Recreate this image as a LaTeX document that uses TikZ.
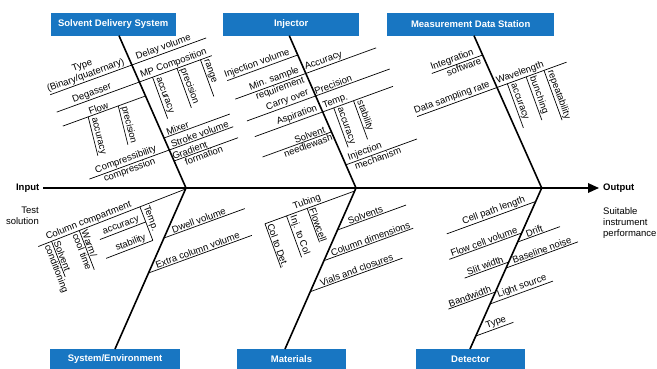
\documentclass[tikz,border=0pt]{standalone}
\usepackage{fontspec}
\setmainfont{Liberation Sans}
\usetikzlibrary{calc,arrows.meta}
\definecolor{hdblue}{RGB}{24,118,194}
\begin{document}
\begin{tikzpicture}[x=1pt,y=-1pt]
\tikzset{
 br/.style={line width=0.7pt},
 bone/.style={line width=1.6pt},
 lab/.style={font=\fontsize{9.5}{10.5}\selectfont, inner sep=0.9pt, sloped},
 subA/.style={lab, anchor=south west, pos=0.02},
 subB/.style={lab, anchor=north west, pos=0.02},
 hd/.style={fill=hdblue, text=white, font=\fontsize{9.5}{11}\selectfont\bfseries, inner sep=0pt},
 plain/.style={font=\fontsize{9.5}{11.3}\selectfont, inner sep=0pt},
 plainb/.style={font=\fontsize{9.5}{11.3}\selectfont\bfseries, inner sep=0pt},
}
\useasboundingbox (0,0) rectangle (657,369);

% category boxes
\node[hd, minimum width=125pt, minimum height=23pt] (sds) at (113.2,24.2) {Solvent Delivery System};
\node[hd, minimum width=135.7pt, minimum height=23pt] (inj) at (291.2,24.2) {Injector};
\node[hd, minimum width=166.7pt, minimum height=23pt] (mds) at (470.7,24.2) {Measurement Data Station};
\node[hd, minimum width=130pt, minimum height=20pt] (sen) at (115,359) {System/Environment};
\node[hd, minimum width=108.4pt, minimum height=20pt] (mat) at (291.5,359) {Materials};
\node[hd, minimum width=109pt, minimum height=20pt] (det) at (470.5,359) {Detector};

% spine end points
\coordinate (s1t) at (119,35.7);  \coordinate (j1) at (186,188);
\coordinate (s2t) at (289.3,35.7); \coordinate (j2) at (356,188);
\coordinate (s3t) at (474,35.7);  \coordinate (j3) at (541.7,188);
\coordinate (s4b) at (115,349);   \coordinate (s5b) at (285,349);  \coordinate (s6b) at (470,349);
\coordinate (in) at (43,188); \coordinate (out) at (599,188);

% main axis
\draw[line width=1.8pt,-{Triangle[length=11pt,width=9.5pt]}] (in) -- (out);
\draw[bone] (s1t) -- (j1);
\draw[bone] (s2t) -- (j2);
\draw[bone] (s3t) -- (j3);
\draw[bone] (j1) -- (s4b);
\draw[bone] (j2) -- (s5b);
\draw[bone] (j3) -- (s6b);

% end texts
\node[plainb, anchor=east] (inp) at (39.5,188) {Input};
\node[plain, anchor=north east, align=right] (tsol) at (39,206.8) {Test\\solution};
\node[plainb, anchor=west] (outp) at (603,188) {Output};
\node[plain, anchor=north west, align=left] (sip) at (603,207) {Suitable\\instrument\\performance};

% ---- Solvent Delivery System
\coordinate (a1) at (131.9,65);
\draw[br] (a1) -- ++(160:87) node[lab,above,pos=0.54,align=center]{Type\\(Binary/quaternary)};
\draw[br] (a1) -- ++(-20:79) node[lab,above,pos=0.45]{Delay volume};
\coordinate (a2) at (139.4,82);
\draw[br] (a2) -- ++(160:88) node[lab,above,pos=0.55]{Degasser};
\draw[br] (a2) -- ++(-20:77) node[lab,above,pos=0.5]{MP Composition};
\draw[br] ($(a2)+(-20:14)$) -- ++(70:44) node[subA]{accuracy};
\draw[br] ($(a2)+(-20:40)$) -- ++(70:42) node[subA]{precision};
\draw[br] ($(a2)+(-20:65)$) -- ++(70:39) node[subA]{range};
\coordinate (a3) at (145.5,96);
\draw[br] (a3) -- ++(160:88) node[lab,above,pos=0.55]{Flow};
\draw[br] ($(a3)+(160:61)$) -- ++(76:40) node[subA]{accuracy};
\draw[br] ($(a3)+(160:29)$) -- ++(76:40) node[subA]{precision};
\coordinate (a4) at (164,138);
\draw[br] (a4) -- ++(-20:70) node[lab,above,pos=0.23]{Mixer};
\coordinate (a5) at (169.3,150);
\draw[br] (a5) -- ++(160:85) node[lab,above,pos=0.52]{Compressibility} node[lab,below,pos=0.52]{compression};
\draw[br] (a5) -- ++(-20:68) node[lab,above,pos=0.5]{Stroke volume};
\coordinate (a6) at (174.1,161);
\draw[br] (a6) -- ++(-20:68) node[lab,above,pos=0.27]{Gradient} node[lab,below,pos=0.44]{formation};

% ---- Injector
\coordinate (b1) at (297.7,55);
\draw[br] (b1) -- ++(160:75) node[lab,above,pos=0.55]{Injection volume};
\coordinate (b2) at (305.7,73.5);
\draw[br] (b2) -- ++(160:75) node[lab,above,pos=0.42]{Min. sample} node[lab,below,pos=0.39]{requirement};
\draw[br] (b2) -- ++(-20:75) node[lab,above,pos=0.28]{Accuracy};
\coordinate (b3) at (315.5,96);
\draw[br] (b3) -- ++(160:73) node[lab,above,pos=0.38]{Carry over};
\draw[br] (b3) -- ++(-20:79) node[lab,above,pos=0.26]{Precision};
\coordinate (b4) at (322.5,112);
\draw[br] (b4) -- ++(160:72) node[lab,above,pos=0.35]{Aspiration};
\draw[br] (b4) -- ++(-20:75) node[lab,above,pos=0.21]{Temp.};
\draw[br] ($(b4)+(-20:12)$) -- ++(70:42) node[subA]{accuracy};
\draw[br] ($(b4)+(-20:33)$) -- ++(70:41) node[subA]{stability};
\coordinate (b5) at (331.2,132);
\draw[br] (b5) -- ++(160:73) node[lab,above,pos=0.29]{Solvent} node[lab,below,pos=0.36]{needlewash};
\coordinate (b6) at (345.5,165);
\draw[br] (b6) -- ++(-20:76) node[lab,above,pos=0.3]{Injection} node[lab,below,pos=0.43]{mechanism};

% ---- Measurement Data Station
\coordinate (c1) at (482.6,55);
\draw[br] (c1) -- ++(160:54) node[lab,above,pos=0.56]{Integration} node[lab,below,pos=0.4]{software};
\coordinate (c2) at (497,87.5);
\draw[br] (c2) -- ++(160:85) node[lab,above,pos=0.54]{Data sampling rate};
\draw[br] (c2) -- ++(-20:74) node[lab,above,pos=0.36]{Wavelength};
\draw[br] ($(c2)+(-20:11)$) -- ++(70:47) node[subA]{accuracy};
\draw[br] ($(c2)+(-20:31)$) -- ++(70:46) node[subA]{bunching};
\draw[br] ($(c2)+(-20:50)$) -- ++(70:53) node[subA]{repeatability};

% ---- System/Environment
\coordinate (d0R) at (185.6,189); \coordinate (d0L) at (38.3,246.5);
\draw[br] (d0L) -- (d0R) node[lab,above,pos=0.356]{Column compartment};
\coordinate (d1) at ($(d0L)!0.09!(d0R)$);
\draw[br] (d1) -- ++(69:38) node[subA]{Solvent} node[subB]{conditioning};
\coordinate (d2) at ($(d0L)!0.278!(d0R)$);
\draw[br] (d2) -- ++(69:42) node[subA]{Warm/} node[subB]{cool time};
\coordinate (t0) at ($(d0L)!0.69!(d0R)$);
\coordinate (t1) at ($(t0)+(69:36)$);
\draw[br] (t0) -- (t1) node[subA]{Temp.};
\draw[br] ($(t0)!0.45!(t1)$) -- ++(159:49) node[lab,above,pos=0.5]{accuracy};
\draw[br] (t1) -- ++(159:50) node[lab,above,pos=0.43]{stability};
\coordinate (d3) at (164,238);
\draw[br] (d3) -- ++(-20:86) node[lab,above,pos=0.45]{Dwell volume};
\coordinate (d4) at (148.5,273);
\draw[br] (d4) -- ++(-20:110) node[lab,above,pos=0.49]{Extra column volume};

% ---- Materials
\coordinate (e0R) at (354.7,191); \coordinate (e0L) at (265,223.8);
\draw[br] (e0L) -- (e0R) node[lab,above,pos=0.49]{Tubing};
\draw[br] (e0L) -- ++(70:47) node[subA]{Col to Det.};
\draw[br] ($(e0L)!0.24!(e0R)$) -- ++(70:44) node[subA]{Inj. to Col};
\draw[br] ($(e0L)!0.47!(e0R)$) -- ++(70:36) node[subA]{Flowcell};
\coordinate (e1) at (337.5,230);
\draw[br] (e1) -- ++(-20:73) node[lab,above,pos=0.43]{Solvents};
\coordinate (e2) at (323.9,260.7);
\draw[br] (e2) -- ++(-20:95) node[lab,above,pos=0.54]{Column dimensions};
\coordinate (e3) at (310.3,291.7);
\draw[br] (e3) -- ++(-20:98) node[lab,above,pos=0.52]{Vials and closures};

% ---- Detector
\coordinate (f1) at (535.7,201.5); \draw[br] (f1) -- ++(160:94.7) node[lab,above,pos=0.45]{Cell path length};
\coordinate (f2) at (521.7,233);   \draw[br] (f2) -- ++(160:77) node[lab,above,pos=0.5]{Flow cell volume};
\coordinate (f3) at (517.7,242);   \draw[br] (f3) -- ++(-20:45) node[lab,above,pos=0.43]{Drift};
\coordinate (f4) at (508.8,262);   \draw[br] (f4) -- ++(160:47) node[lab,above,pos=0.5]{Slit width};
\coordinate (f5) at (506.1,268);   \draw[br] (f5) -- ++(-20:76.5) node[lab,above,pos=0.52]{Baseline noise};
\coordinate (f6) at (495.4,292);   \draw[br] (f6) -- ++(160:50) node[lab,above,pos=0.51]{Bandwidth};
\coordinate (f7) at (490,304);     \draw[br] (f7) -- ++(-20:67) node[lab,above,pos=0.54]{Light source};
\coordinate (f8) at (475.8,336);   \draw[br] (f8) -- ++(-20:40) node[lab,above,pos=0.59]{Type};
\end{tikzpicture}
\end{document}
